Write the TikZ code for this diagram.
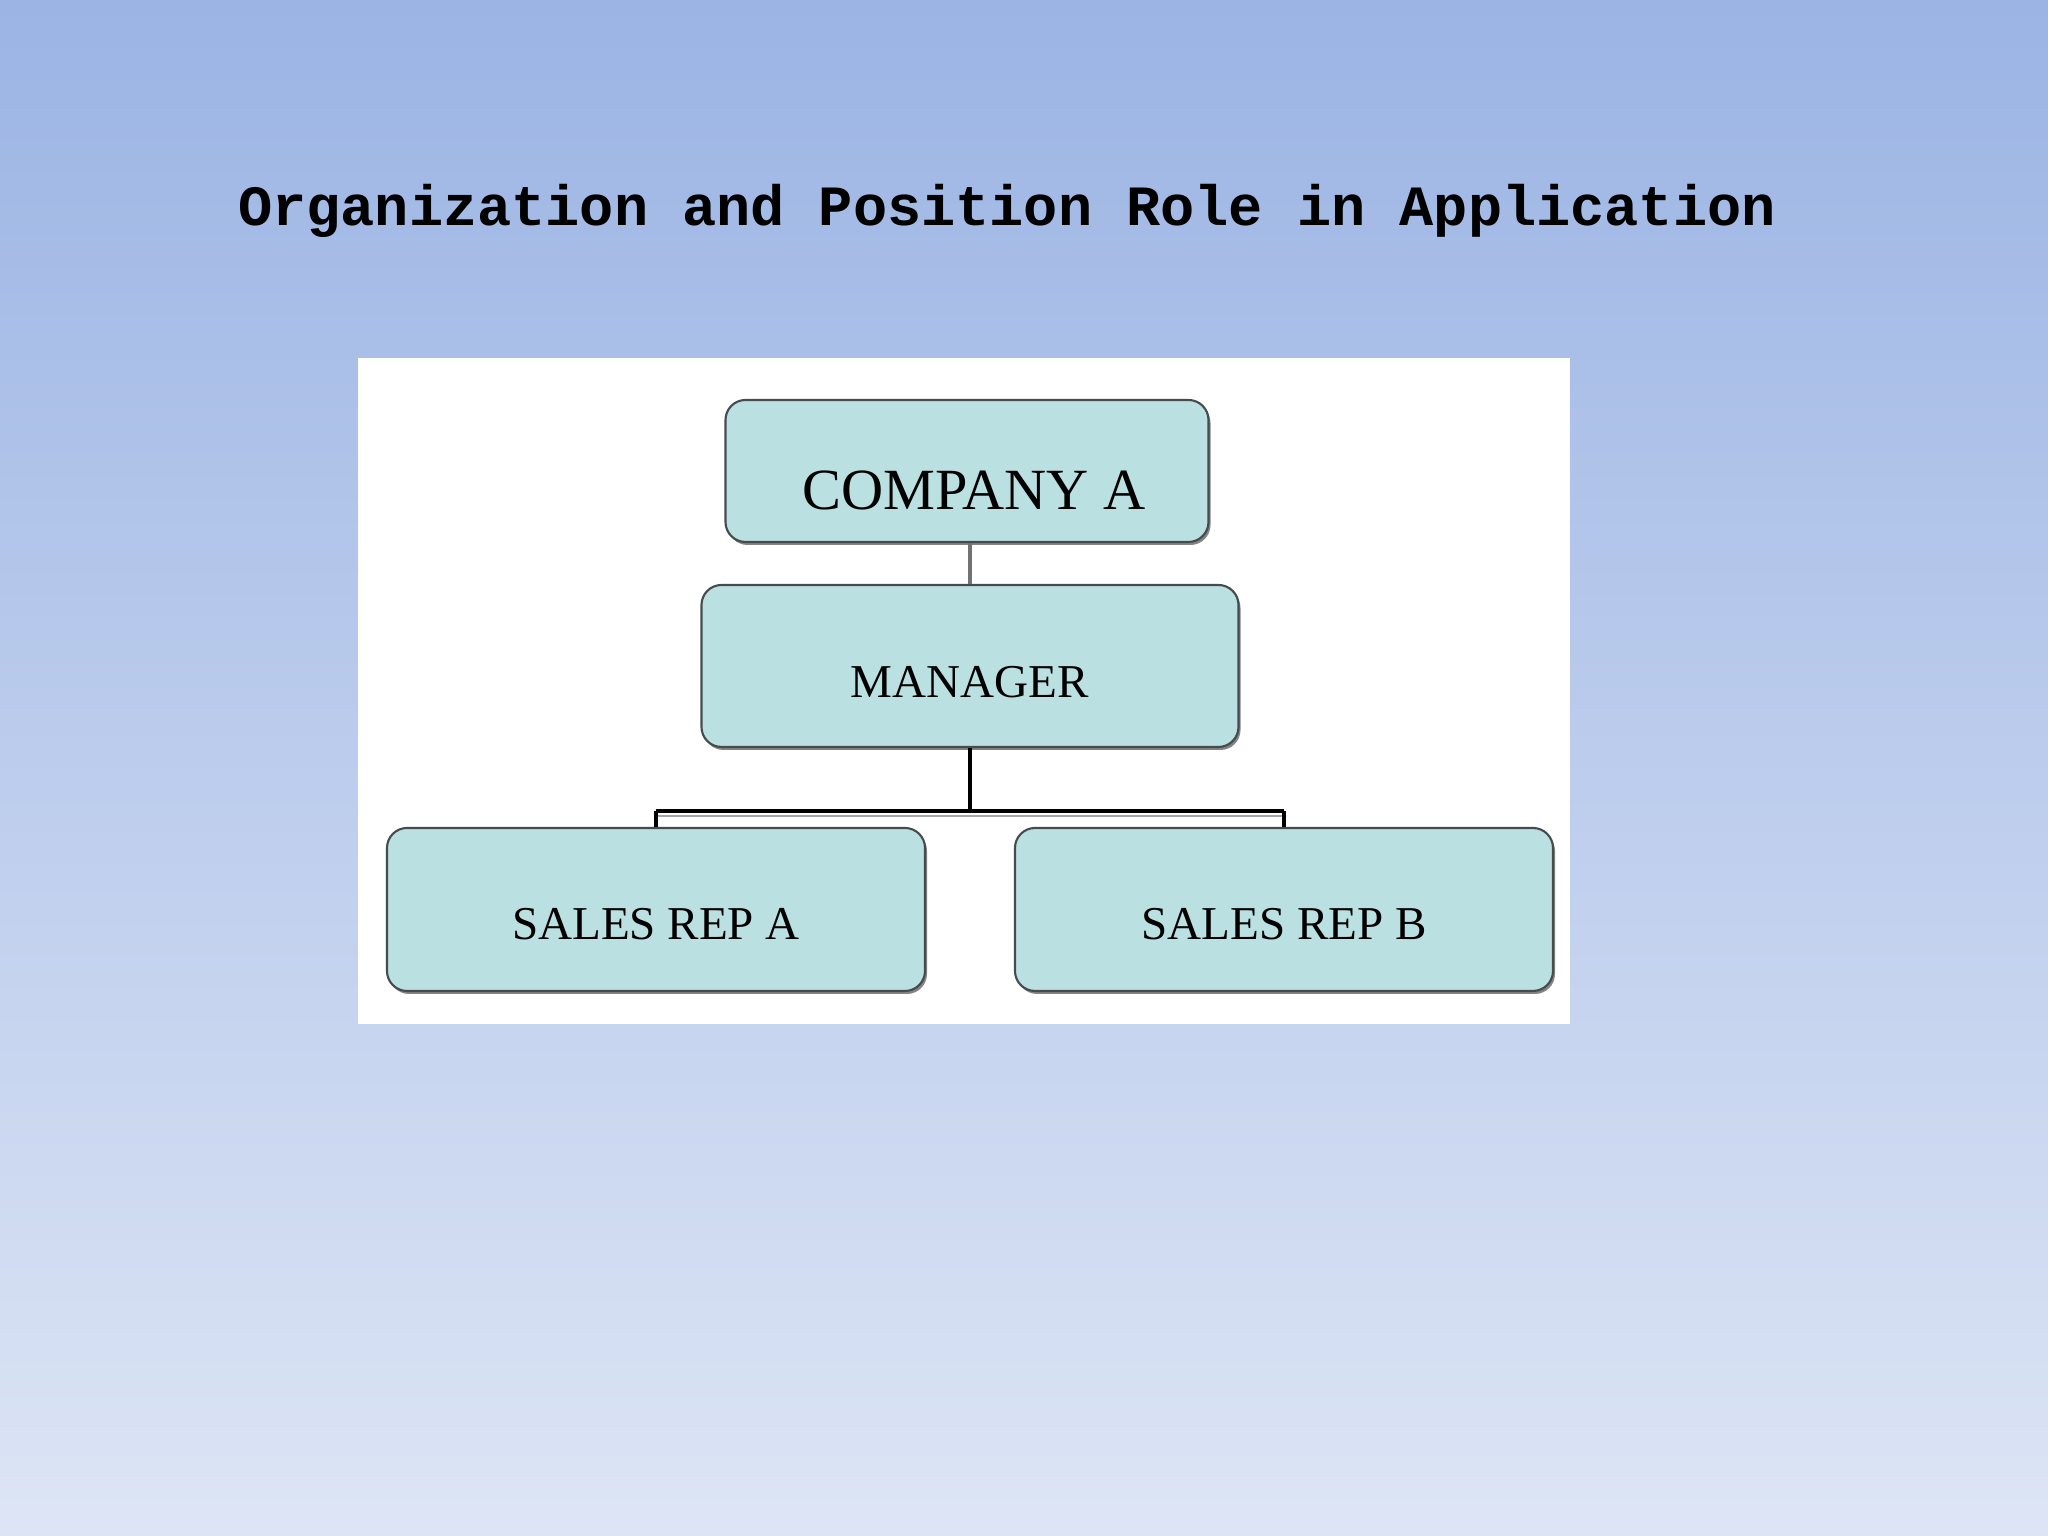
\documentclass[tikz,border=0pt]{standalone}
\usepackage{fontspec}
\setmainfont{Liberation Serif}
\setmonofont{Liberation Mono}
\usepackage{tikz}
\usetikzlibrary{positioning}
\usetikzlibrary{shadows}
\definecolor{skytop}{RGB}{155,180,228}
\definecolor{skymid}{RGB}{186,205,237}
\definecolor{skybot}{RGB}{221,229,245}
\definecolor{boxfill}{RGB}{186,224,226}
\definecolor{boxline}{RGB}{70,75,78}
\tikzset{orgbox/.style = {draw=boxline, line width=0.6pt, fill=boxfill,
                          rounded corners=0.2cm, inner sep=0,
                          drop shadow={shadow xshift=0.02cm, shadow yshift=-0.03cm,
                                       fill=black!60, opacity=0.8}}}
\tikzset{small/.style = {font=\fontsize{13.4pt}{15pt}\selectfont}}
\tikzset{link/.style = {draw=black, line width=1.4pt}}

\begin{document}
\begin{tikzpicture}
    \shade [top color=skytop, middle color=skymid, bottom color=skybot]
      (0, 0) rectangle (20.48, 15.36);
    \fill [white] (3.58, 5.12) rectangle (15.70, 11.78);
    \node [anchor=base, font=\ttfamily\bfseries\fontsize{16.2pt}{19pt}\selectfont] (title)
      at (10.07, 13.10) {Organization and Position Role in Application};
    \node [orgbox, minimum width=4.83cm, minimum height=1.42cm, text height=0.78cm,
           font=\fontsize{16.6pt}{19pt}\selectfont] (company) at (9.67, 10.65) {\hspace{0.14cm}COMPANY A};
    \node [orgbox, small, minimum width=5.37cm, minimum height=1.62cm, text height=0.64cm]
      (mgr) at (9.70, 8.70) {MANAGER};
    \foreach \x/\n/\t in {6.56/repA/A, 12.84/repB/B} {
      \node [orgbox, small, minimum width=5.38cm, minimum height=1.63cm, text height=0.61cm]
        (\n) at (\x, 6.265) {SALES REP \t};
    }
    \coordinate (fork) at (mgr.south |- 0, 7.25);
    \draw [draw=black!55, line width=0.9pt] (mgr.north |- company.south) -- (mgr.north);
    \draw [draw=black!35, line width=0.6pt] ([yshift=-0.05cm]repA.north |- fork) -- ([yshift=-0.05cm]repB.north |- fork);
    \draw [link] (mgr.south) -- (fork);
    \draw [link] (repA.north |- fork) -- (repB.north |- fork);
    \draw [draw=black, line width=0.9pt] (repA.north) -- (repA.north |- fork);
    \draw [draw=black, line width=0.9pt] (repB.north) -- (repB.north |- fork);
\end{tikzpicture}
\end{document}
